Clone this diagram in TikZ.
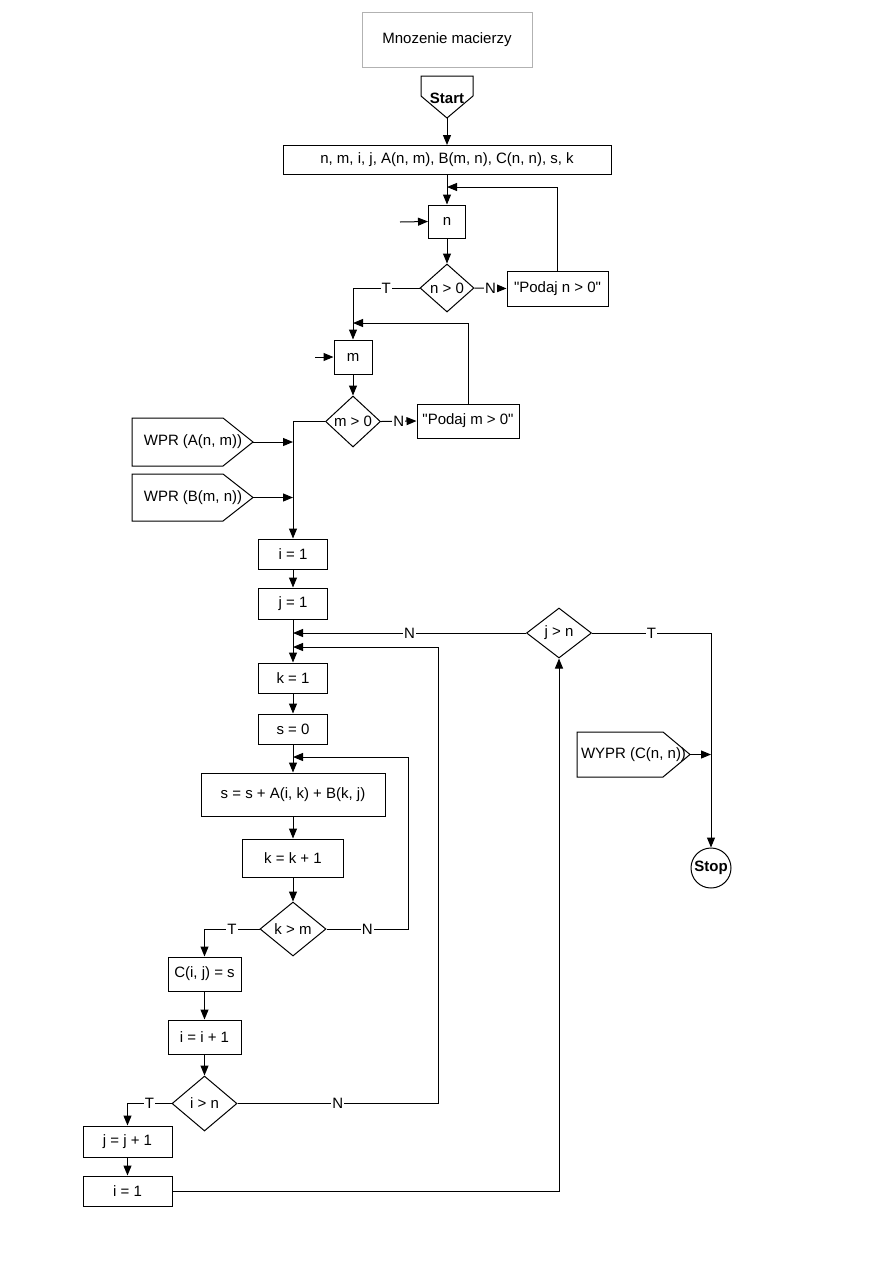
\documentclass[tikz,border=0pt]{standalone}
\usepackage{fontspec}
\setmainfont{Liberation Sans}[Ligatures=TeXOff]
\usetikzlibrary{arrows.meta,shapes.geometric}
\newcommand\mainsz{\fontsize{15bp}{17bp}\selectfont}
\begin{document}
\begin{tikzpicture}[x=1bp,y=-1bp,
  every node/.style={font=\mainsz},
  shapeline/.style={draw, line width=1bp},
  arr/.style={draw, line width=1bp, -{Triangle[length=10bp,width=8bp]}},
  box/.style={draw, rectangle, inner sep=0pt, line width=1bp},
  dec/.style={draw, diamond, inner sep=0pt, line width=1bp},
  lbl/.style={fill=white, inner sep=1bp}]
\useasboundingbox (0,0) rectangle (893,1263);
\fill[white] (0,0) rectangle (893,1263);

% title
\node[box, draw=gray!60, minimum width=170bp, minimum height=55bp] (title) at (447,39.5) {Mnozenie macierzy};

% start
\draw[shapeline] (421,76) -- (473,76) -- (473,96) -- (447,118) -- (421,96) -- cycle;
\node[font=\mainsz\bfseries] (start) at (447,98) {Start};
\coordinate (starttip) at (447,118);

\node[box, minimum width=328bp, minimum height=29bp] (decl) at (447,160) {n, m, i, j, A(n, m), B(m, n), C(n, n), s, k};
\draw[arr] (starttip) -- (decl.north);

% n input
\node[box, minimum width=37bp, minimum height=33bp] (nin) at (447,221.5) {n};
\coordinate (nj) at (447,187);
\draw[arr] (decl.south) -- (nin.north);
\coordinate (nsrc) at (400,222);
\draw[arr] (nsrc) -- (nin.west);
\node[dec, minimum width=54bp, minimum height=48bp] (dn) at (447,288) {\makebox[0pt]{n > 0}};
\draw[arr] (nin.south) -- (dn.north);
\node[box, minimum width=101bp, minimum height=35bp] (pn) at (557.5,288.5) {"Podaj n > 0"};
\draw[arr] (dn.east) -- node[lbl]{N} (pn.west);
\draw[arr] (pn.north) |- (nj);

% m input
\node[box, minimum width=38bp, minimum height=34bp] (mi) at (353,357) {m};
\draw[arr] (dn.west) -| node[lbl,pos=0.25]{T} (mi.north);
\coordinate (mj) at (353,323);
\coordinate (msrc) at (315,357);
\draw[arr] (msrc) -- (mi.west);
\node[dec, minimum width=55bp, minimum height=51bp] (dm) at (353,421.5) {\makebox[0pt]{m > 0}};
\draw[arr] (mi.south) -- (dm.north);
\node[box, minimum width=102bp, minimum height=34bp] (pm) at (468,421) {"Podaj m > 0"};
\draw[arr] (dm.east) -- node[lbl]{N} (pm.west);
\draw[arr] (pm.north) |- (mj);

% read matrices
\draw[shapeline] (132,418) -- (223,418) -- (253,442) -- (223,466) -- (132,466) -- cycle;
\node (wa) at (193,442) {WPR (A(n, m))};
\coordinate (watip) at (253,442);
\coordinate (wajoin) at (293,442);
\draw[arr] (watip) -- (wajoin);
\draw[shapeline] (132,474) -- (223,474) -- (253,497.5) -- (223,521) -- (132,521) -- cycle;
\node (wb) at (193,497.5) {WPR (B(m, n))};
\coordinate (wbtip) at (253,497.5);
\coordinate (wbjoin) at (293,497.5);
\draw[arr] (wbtip) -- (wbjoin);

% main loops
\node[box, minimum width=69bp, minimum height=30bp] (i1) at (293,554) {i = 1};
\draw[arr] (dm.west) -| (i1.north);
\node[box, minimum width=69bp, minimum height=31bp] (j1) at (293,603.5) {j = 1};
\draw[arr] (i1.south) -- (j1.north);
\node[box, minimum width=69bp, minimum height=30bp] (k1) at (293,678) {k = 1};
\draw[arr] (j1.south) -- (k1.north);
\coordinate (kj1) at (293,633);
\coordinate (kj2) at (293,647);
\node[dec, minimum width=65bp, minimum height=50bp] (djn) at (559,633) {\makebox[0pt]{j > n}};
\draw[arr] (djn.west) -- node[lbl]{N} (kj1);

\node[box, minimum width=69bp, minimum height=30bp] (s0) at (293,729) {s = 0};
\draw[arr] (k1.south) -- (s0.north);
\coordinate (sj) at (293,757);
\node[box, minimum width=184bp, minimum height=43bp] (ssum) at (293,794.5) {s = s + A(i, k) + B(k, j)};
\draw[arr] (s0.south) -- (ssum.north);
\node[box, minimum width=101bp, minimum height=38bp] (kk) at (293,858) {k = k + 1};
\draw[arr] (ssum.south) -- (kk.north);
\node[dec, minimum width=66bp, minimum height=54bp] (dkm) at (293,929) {\makebox[0pt]{k > m}};
\draw[arr] (kk.south) -- (dkm.north);
\coordinate (kc) at (408,929);
\draw[arr] (dkm.east) -- node[lbl]{N} (kc) |- (sj);

\node[box, minimum width=73bp, minimum height=34bp] (cij) at (204.5,974) {C(i, j) = s};
\draw[arr] (dkm.west) -| node[lbl,pos=0.25]{T} (cij.north);
\node[box, minimum width=73bp, minimum height=34bp] (ii) at (204.5,1037) {i = i + 1};
\draw[arr] (cij.south) -- (ii.north);
\node[dec, minimum width=65bp, minimum height=55bp] (din) at (204.5,1103.5) {\makebox[0pt]{i > n}};
\draw[arr] (ii.south) -- (din.north);
\coordinate (ic) at (438,1103.5);
\draw[arr] (din.east) -- node[lbl]{N} (ic) |- (kj2);

\node[box, minimum width=89bp, minimum height=31bp] (jj) at (127.5,1141.5) {j = j + 1};
\draw[arr] (din.west) -| node[lbl,pos=0.25]{T} (jj.north);
\node[box, minimum width=89bp, minimum height=30bp] (i2) at (127.5,1191) {i = 1};
\draw[arr] (jj.south) -- (i2.north);
\draw[arr] (i2.east) -| (djn.south);

% output and stop
\node[draw, circle, minimum size=40bp, inner sep=0pt, line width=1bp, font=\mainsz\bfseries] (stop) at (711,868) {\makebox[0pt]{Stop}};
\draw[arr] (djn.east) -| node[lbl,pos=0.25]{T} (stop.north);
\draw[shapeline] (577,732) -- (663,732) -- (690,754.5) -- (663,777) -- (577,777) -- cycle;
\node (wc) at (633.5,754.5) {WYPR (C(n, n))};
\coordinate (wctip) at (690,754.5);
\coordinate (wcj) at (711,754.5);
\draw[arr] (wctip) -- (wcj);
\end{tikzpicture}
\end{document}
